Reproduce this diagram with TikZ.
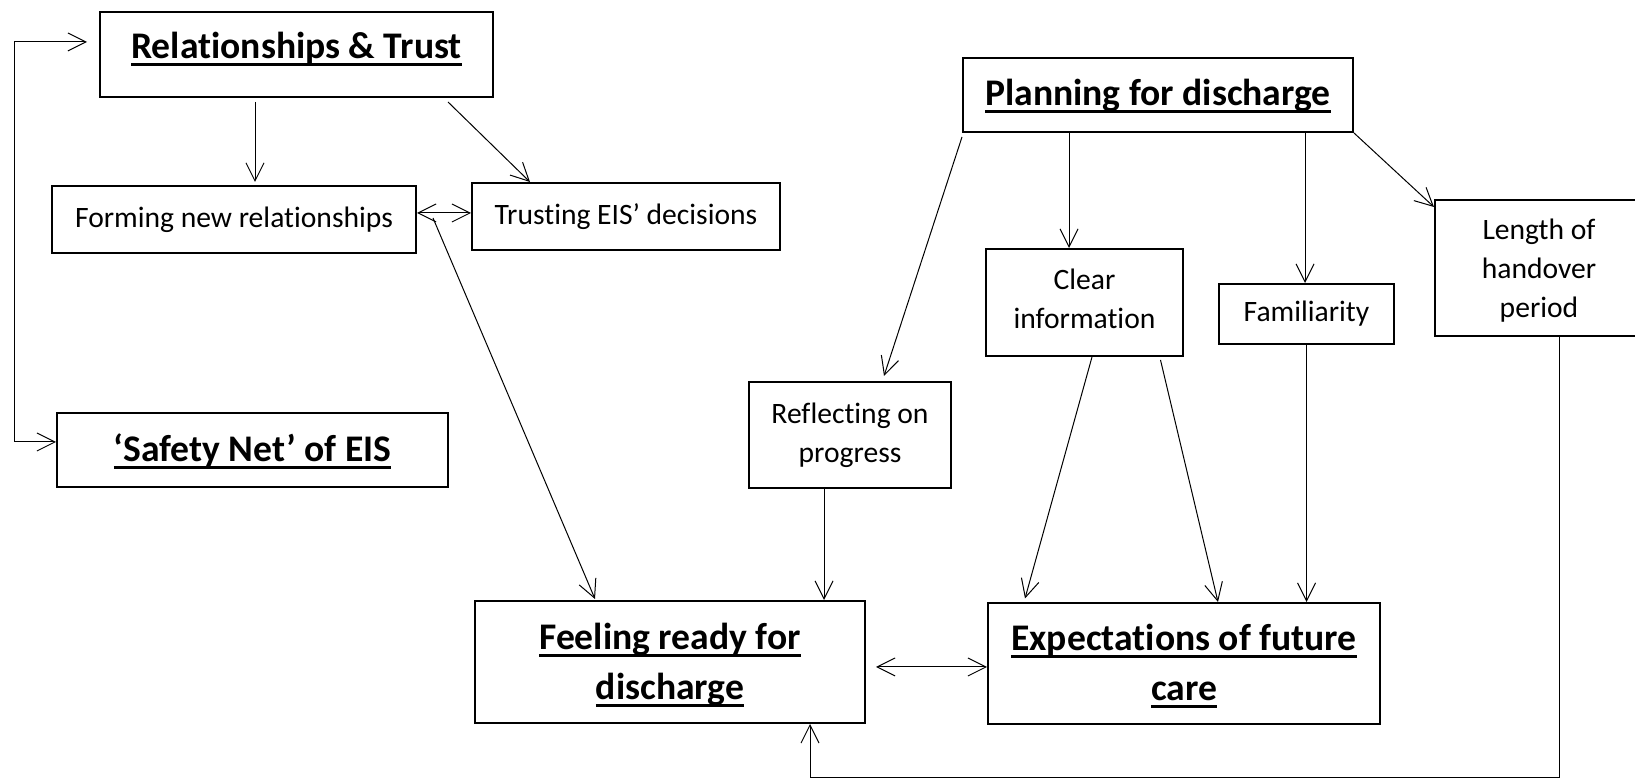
\documentclass[tikz,border=0pt]{standalone}
\usepackage{fontspec}
\setmainfont[Ligatures=NoCommon]{Carlito}
\usetikzlibrary{arrows.meta}

% underline set at a fixed depth below the baseline
\newcommand{\undl}[1]{\setbox0\hbox{#1}\rlap{\rule[-3.8pt]{\wd0}{1.6pt}}\box0}

\begin{document}
\begin{tikzpicture}[
    x=0.5pt, y=-0.5pt,
    box/.style={
      draw,
      line width=1pt,
      inner sep=0pt,
      align=center,
      font=\fontsize{14.8}{19.5}\selectfont
    },
    head/.style={box, font=\fontsize{18.8}{25}\selectfont\bfseries},
    arr/.style={line width=0.5pt,-{Straight Barb[length=9pt,width=9pt]}},
    dbl/.style={line width=0.5pt,
      {Straight Barb[length=9pt,width=9pt]}-{Straight Barb[length=9pt,width=9pt]}}
  ]

  \useasboundingbox (0,0) rectangle (1635,779);
  \clip (0,0) rectangle (1635,779);

  % Rails of the outer connectors
  \def\xRail{14}
  \def\yBottom{778}
  \coordinate (rail) at (\xRail,0);
  \coordinate (bot) at (0,\yBottom);

  % =====================================================
  % LEFT THEME
  % =====================================================
  \node[head, minimum width=196.5pt, minimum height=42.5pt, text depth=9pt]
  (rel) at (296.5,54.5) {\undl{Relationships \& Trust}};

  \node[box, minimum width=182pt, minimum height=33.5pt]
  (fnr) at (234,219.5) {Forming new relationships};

  \node[box, minimum width=154pt, minimum height=33.5pt]
  (trust) at (626,216.5) {Trusting EIS’ decisions};

  \node[head, minimum width=195.5pt, minimum height=37pt, text depth=2.5pt]
  (safe) at (252.5,450) {\undl{‘Safety Net’ of EIS}};

  % =====================================================
  % RIGHT THEME
  % =====================================================
  \node[head, minimum width=195pt, minimum height=37pt, text depth=2.5pt]
  (plan) at (1158,95) {\undl{Planning for discharge}};

  \node[box, minimum width=98.5pt, minimum height=53.5pt, text depth=4pt]
  (clear) at (1084.5,302.5) {Clear\\information};

  \node[box, minimum width=87.5pt, minimum height=30pt]
  (famil) at (1306.5,314) {Familiarity};

  \node[box, minimum width=104pt, minimum height=68pt, text depth=0pt]
  (length) at (1539,268) {Length of\\handover\\period};

  \node[box, minimum width=101pt, minimum height=53pt]
  (reflect) at (850,435) {Reflecting on\\progress};

  % =====================================================
  % OUTCOMES
  % =====================================================
  \node[head, minimum width=195pt, minimum height=61pt, text depth=1pt]
  (feel) at (670,662) {\undl{Feeling ready for}\\\undl{discharge}};

  \node[head, minimum width=196pt, minimum height=60.5pt, text depth=1pt]
  (expect) at (1184,663.5) {\undl{Expectations of future}\\\undl{care}};

  % =====================================================
  % ARROWS
  % =====================================================
  \draw[dbl] ([xshift=-6pt,yshift=6.25pt]rel.west) --
  ([yshift=6.25pt]rel.west -| rail) |- ([yshift=4pt]safe.west);

  \draw[arr] ([xshift=-20.75pt,yshift=-2pt]rel.south) --
  ([xshift=10.5pt,yshift=1.5pt]fnr.north);
  \draw[arr] ([xshift=75.75pt,yshift=-2pt]rel.south) --
  ([xshift=-48pt]trust.north);

  \draw[dbl] ([yshift=3.25pt]fnr.east) -- ([yshift=3.25pt]fnr.east -| trust.west);

  \draw[arr] ([xshift=8pt,yshift=0.75pt]fnr.east) --
  ([xshift=-37.5pt,yshift=0.5pt]feel.north);

  \draw[arr] ([yshift=-2pt]plan.south west) --
  ([xshift=17pt,yshift=2.5pt]reflect.north);
  \draw[arr] ([xshift=-44.5pt]plan.south) --
  ([xshift=-44.5pt]plan.south |- clear.north);
  \draw[arr] ([xshift=73.5pt]plan.south) --
  ([xshift=73.5pt]plan.south |- famil.north);
  \draw[arr] (plan.south east) -- ([yshift=-4pt]length.north west);

  \draw[arr] ([xshift=-13pt]reflect.south) --
  ([xshift=-13pt]reflect.south |- feel.north);

  \draw[arr] ([xshift=3.75pt]clear.south) --
  ([xshift=-79.5pt,yshift=1.75pt]expect.north);
  \draw[arr] ([xshift=38pt,yshift=-1.5pt]clear.south) --
  ([xshift=17pt]expect.north);
  \draw[arr] (famil.south) -- (famil.south |- expect.north);

  \draw[dbl] ([xshift=5pt,yshift=-2.5pt]feel.east) --
  ([yshift=-2.5pt]feel.east -| expect.west);

  \draw[arr] ([xshift=10pt]length.south) -- ([xshift=10pt]length.south |- bot)
  -| ([xshift=70pt]feel.south);

\end{tikzpicture}
\end{document}
